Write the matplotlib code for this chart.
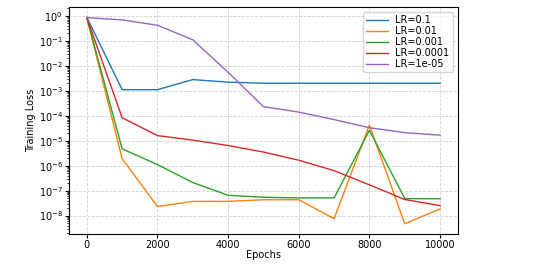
import matplotlib.pyplot as plt

epochs = [0, 1000, 2000, 3000, 4000, 5000, 6000, 7000, 8000, 9000, 10000]

loss_lr_0_1 = [0.88, 1.1e-3, 1.1e-3, 2.8e-3, 2.2e-3, 2.0e-3, 2.0e-3, 2.0e-3, 2.0e-3, 2.0e-3, 2.0e-3]
loss_lr_0_01 = [0.85, 1.9e-6, 2.3e-8, 3.7e-8, 3.7e-8, 4.3e-8, 4.3e-8, 7.5e-9, 4.2e-5, 4.7e-9, 1.85e-8]
loss_lr_0_001 = [0.85, 4.7e-6, 1.1e-6, 2.1e-7, 6.5e-8, 5.4e-8, 5.1e-8, 5.1e-8, 2.6e-5, 4.8e-8, 4.7e-8]
loss_lr_0_0001 = [0.85, 8.3e-5, 1.6e-5, 1.05e-5, 6.4e-6, 3.5e-6, 1.65e-6, 6.3e-7, 1.7e-7, 4.4e-8, 2.5e-8]
loss_lr_1e_05 = [0.85, 0.69, 0.42, 0.11, 5.5e-3, 2.3e-4, 1.4e-4, 7e-5, 3.3e-5, 2.1e-5, 1.66e-5]

labels = ['LR=0.1', 'LR=0.01', 'LR=0.001', 'LR=0.0001', 'LR=1e-05']
series = [loss_lr_0_1, loss_lr_0_01, loss_lr_0_001, loss_lr_0_0001, loss_lr_1e_05]

# plot settings
f = plt.figure(figsize=(5.36, 2.66), dpi=100)
ax = f.add_axes([0.129, 0.12, 0.725, 0.854])

for vals, lab in zip(series, labels):
    ax.plot(epochs, vals, label=lab, linewidth=1.0)

ax.set_yscale('log')
ax.set_xlabel('Epochs', fontsize=7, labelpad=0)
ax.set_ylabel('Training Loss', fontsize=7, labelpad=2)
ax.tick_params(labelsize=7, length=3, pad=1.5)
ax.tick_params(which='minor', length=1.5)
ax.set_xticks([0, 2000, 4000, 6000, 8000, 10000])
ax.grid(True, linestyle='--', color='#d0d0d0', linewidth=0.6)
ax.legend(loc='upper right', fontsize=7, handlelength=2.2, labelspacing=0.1,
          borderpad=0.35, handletextpad=0.8, framealpha=0.8)

f.savefig('out.png', dpi=100)
